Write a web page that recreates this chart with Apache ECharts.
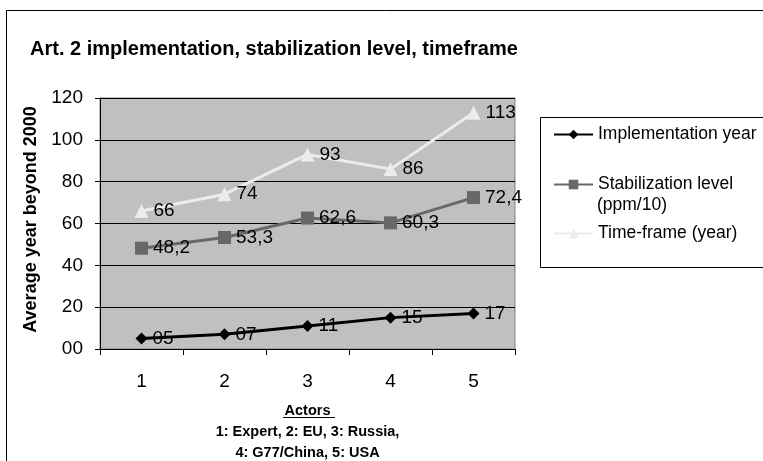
<!DOCTYPE html>
<html>
<head>
<meta charset="utf-8">
<script src="https://cdn.jsdelivr.net/npm/echarts@6/dist/echarts.min.js"></script>
<style>
html,body{margin:0;padding:0;background:#fff;}
#chart{width:763px;height:461px;}
</style>
</head>
<body>
<div id="chart"></div>
<script>
var categories = ['1', '2', '3', '4', '5'];
var implementationYear = [5, 7, 11, 15, 17];
var stabilizationLevel = [48.2, 53.3, 62.6, 60.3, 72.4];
var timeFrame = [66, 74, 93, 86, 113];
var yTicks = {min: 0, max: 120, interval: 20};
var seriesNames = ['Implementation year', 'Stabilization level (ppm/10)', 'Time-frame (year)'];

var FONT = '"Liberation Sans", Arial, sans-serif';
function two(v) { return (v < 10 ? '0' : '') + v; }
function comma(v) { return String(v.toFixed(1)).replace('.', ','); }

var chart = echarts.init(document.getElementById('chart'));
var lblBase = {show: true, position: 'right', distance: 5, fontSize: 19, color: '#000', fontFamily: FONT};
var legText = {fontFamily: FONT, fontSize: 17.5, color: '#000', lineHeight: 21};

chart.setOption({
  animation: false,
  backgroundColor: '#fff',
  title: {
    text: 'Art. 2 implementation, stabilization level, timeframe',
    left: 30, top: 39, padding: 0,
    textStyle: {fontFamily: FONT, fontSize: 20, fontWeight: 'bold', color: '#000'}
  },
  grid: {
    left: 100, top: 98, right: 248, bottom: 112,
    containLabel: false, outerBoundsMode: 'none',
    show: true, backgroundColor: '#c0c0c0', borderColor: '#808080', borderWidth: 1
  },
  legend: [
    {data: [seriesNames[0]], left: 553, top: 124, padding: 0, itemWidth: 39, itemHeight: 12, textStyle: legText},
    {data: [seriesNames[1]], left: 553, top: 174, padding: 0, itemWidth: 39, itemHeight: 12, textStyle: legText,
     formatter: function () { return 'Stabilization level'; }},
    {data: [seriesNames[2]], left: 553, top: 223, padding: 0, itemWidth: 39, itemHeight: 12, textStyle: legText}
  ],
  xAxis: {
    type: 'category', data: categories, boundaryGap: true,
    axisLine: {lineStyle: {color: '#000', width: 1}},
    axisTick: {show: true, length: 6, lineStyle: {color: '#000'}},
    axisLabel: {fontFamily: FONT, fontSize: 19, color: '#000', margin: 23},
    name: 'Actors\n1: Expert, 2: EU, 3: Russia,\n4: G77/China, 5: USA',
    nameLocation: 'middle', nameGap: 51,
    nameTextStyle: {fontFamily: FONT, fontSize: 14.5, fontWeight: 'bold', color: '#000', lineHeight: 21}
  },
  yAxis: {
    type: 'value', min: yTicks.min, max: yTicks.max, interval: yTicks.interval,
    axisLine: {show: true, lineStyle: {color: '#000', width: 1}},
    axisTick: {show: true, length: 5, lineStyle: {color: '#000'}},
    splitLine: {show: true, lineStyle: {color: '#000', width: 1}},
    axisLabel: {fontFamily: FONT, fontSize: 19, color: '#000', margin: 17, formatter: function (v) { return two(v); }},
    name: 'Average year beyond 2000', nameLocation: 'middle', nameGap: 54, nameRotate: 90,
    nameTextStyle: {fontFamily: FONT, fontSize: 18, fontWeight: 'bold', color: '#000', padding: [0, 0, 0, 8]}
  },
  series: [
    {
      name: seriesNames[0], type: 'line', data: implementationYear,
      symbol: 'diamond', symbolSize: 12,
      lineStyle: {color: '#000', width: 3}, itemStyle: {color: '#000'},
      label: Object.assign({}, lblBase, {formatter: function (p) { return two(p.value); }}),
      z: 4
    },
    {
      name: seriesNames[1], type: 'line', data: stabilizationLevel,
      symbol: 'rect', symbolSize: 13,
      lineStyle: {color: '#686868', width: 3}, itemStyle: {color: '#686868'},
      label: Object.assign({}, lblBase, {formatter: function (p) { return comma(p.value); }}),
      z: 3
    },
    {
      name: seriesNames[2], type: 'line', data: timeFrame,
      symbol: 'triangle', symbolSize: 14,
      lineStyle: {color: '#ececec', width: 3}, itemStyle: {color: '#ececec'},
      label: Object.assign({}, lblBase, {formatter: function (p) { return String(p.value); }}),
      z: 2
    }
  ],
  graphic: [
    {type: 'rect', shape: {x: 6.5, y: 10.5, width: 900, height: 600}, style: {fill: 'none', stroke: '#000', lineWidth: 1}, silent: true, z: -1},
    {type: 'rect', shape: {x: 540.5, y: 117.5, width: 300, height: 150}, style: {fill: 'none', stroke: '#000', lineWidth: 1}, silent: true},
    {type: 'text', x: 597, y: 205, style: {text: '(ppm/10)', font: '17.5px "Liberation Sans", Arial, sans-serif', fill: '#000', textVerticalAlign: 'middle'}, silent: true},
    {type: 'line', shape: {x1: 283, y1: 417.5, x2: 335, y2: 417.5}, style: {stroke: '#000', lineWidth: 1}, silent: true}
  ]
});
</script>
</body>
</html>
